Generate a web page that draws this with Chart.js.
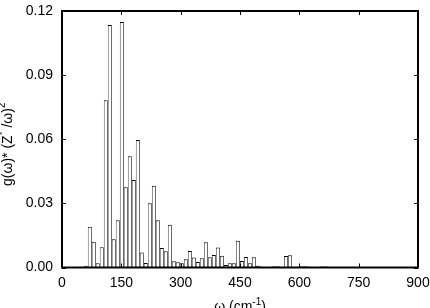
<!DOCTYPE html>
<html>
<head>
<meta charset="utf-8">
<script src="https://cdn.jsdelivr.net/npm/chart.js@4.4.1/dist/chart.umd.min.js"></script>
<style>
html, body { margin: 0; padding: 0; background: #fff; }
#wrap { width: 430px; height: 308px; }
</style>
</head>
<body>
<div id="wrap"><canvas id="histChart" width="430" height="308"></canvas></div>
<script>
// bin centres (cm-1)
const omega = [60.2, 70.3, 80.4, 90.5, 100.6, 110.8, 120.9, 131.0, 141.1, 151.3,
  161.4, 171.5, 181.6, 191.7, 201.9, 212.0, 222.1, 232.3, 242.3, 252.5,
  262.6, 272.7, 282.8, 292.9, 303.1, 313.2, 323.3, 333.4, 343.5, 353.7,
  363.8, 373.9, 384.0, 394.1, 404.3, 414.4, 424.5, 434.6, 444.7, 454.9,
  465.0, 475.1, 485.2, 495.3, 505.5, 515.6, 525.7, 535.8, 545.9, 556.1,
  566.2, 576.3, 586.4, 596.5, 606.7, 616.8, 626.9, 637.0, 647.1, 657.3, 667.4];

// g(w)*(Z*/w)^2 per bin
const weight = [0.0007, 0.0191, 0.0120, 0.0020, 0.0095, 0.0782, 0.1135, 0.0132, 0.0221, 0.1148,
  0.0376, 0.0521, 0.0409, 0.0596, 0.0070, 0.0021, 0.0301, 0.0383, 0.0221, 0.0091,
  0.0076, 0.0200, 0.0029, 0.0025, 0.0020, 0.0039, 0.0077, 0.0047, 0.0026, 0.0043,
  0.0118, 0.0048, 0.0058, 0.0094, 0.0055, 0.0012, 0.0020, 0.0020, 0.0125, 0.0030,
  0.0049, 0.0020, 0.0048, 0.0008, 0.0003, 0.0000, 0.0000, 0.0006, 0.0006, 0.0000,
  0.0054, 0.0057, 0.0000, 0.0000, 0.0006, 0.0006, 0.0000, 0.0000, 0.0000, 0.0005, 0.0005];

const xTicks = [0, 150, 300, 450, 600, 750, 900];
const yTicks = [0, 0.03, 0.06, 0.09, 0.12];

const FONT = '"Liberation Sans", Arial, "DejaVu Sans", sans-serif';

// draws text made of pieces with their own size / raise (for superscripts)
function drawPieces(ctx, pieces, x, y, rotate) {
  ctx.save();
  ctx.translate(x, y);
  if (rotate) ctx.rotate(-Math.PI / 2);
  let total = 0;
  pieces.forEach(p => { ctx.font = p[1] + 'px ' + FONT; total += ctx.measureText(p[0]).width; });
  let cx = -total / 2;
  ctx.textBaseline = 'alphabetic';
  ctx.textAlign = 'left';
  ctx.fillStyle = '#000';
  pieces.forEach(p => {
    ctx.font = p[1] + 'px ' + FONT;
    ctx.fillText(p[0], cx, p[2]);
    cx += ctx.measureText(p[0]).width;
  });
  ctx.restore();
}

const framePlugin = {
  id: 'frame',
  afterDatasetsDraw(chart) {
    const { ctx, chartArea: a, scales: { x, y } } = chart;
    ctx.save();
    ctx.strokeStyle = '#000';
    ctx.lineWidth = 1;
    ctx.beginPath();
    xTicks.forEach(v => {
      const px = Math.round(x.getPixelForValue(v)) + 0.5;
      ctx.moveTo(px, a.bottom); ctx.lineTo(px, a.bottom - 4);
      ctx.moveTo(px, a.top); ctx.lineTo(px, a.top + 4);
    });
    yTicks.forEach(v => {
      const py = Math.round(y.getPixelForValue(v)) + 0.5;
      ctx.moveTo(a.left, py); ctx.lineTo(a.left + 4, py);
      ctx.moveTo(a.right, py); ctx.lineTo(a.right - 4, py);
    });
    ctx.stroke();
    ctx.lineWidth = 2;
    ctx.strokeRect(a.left, a.top, a.right - a.left, a.bottom - a.top);
    ctx.restore();

    // axis titles
    drawPieces(ctx, [['g(ω)* (Z', 14, 0], ['*', 10, -6], [' /ω)', 14, 0], ['2', 10, -7]],
      12, (a.top + a.bottom) / 2 + 5, true);
    drawPieces(ctx, [['ω (cm', 14, 0], ['-1', 10, -6], [')', 14, 0]],
      (a.left + a.right) / 2, 311, false);
  }
};

new Chart(document.getElementById('histChart'), {
  type: 'bar',
  data: {
    datasets: [{
      data: omega.map((w, i) => ({ x: w, y: weight[i] })),
      backgroundColor: '#fff',
      borderColor: '#000',
      borderWidth: { top: 1, left: 0.75, right: 0.75, bottom: 0 },
      borderSkipped: false,
      inflateAmount: 0,
      barPercentage: 1,
      categoryPercentage: 1
    }]
  },
  options: {
    responsive: false,
    devicePixelRatio: 1,
    animation: false,
    layout: { padding: { top: 11, right: 12, bottom: 0, left: 0 } },
    plugins: { legend: { display: false }, tooltip: { enabled: false } },
    scales: {
      x: {
        type: 'linear',
        min: 0,
        max: 900,
        offset: false,
        grid: { display: false, drawTicks: false },
        border: { display: false },
        afterBuildTicks: s => { s.ticks = xTicks.map(v => ({ value: v })); },
        afterFit: s => { s.height = 40.5; s.paddingLeft = 0; s.paddingRight = 0; },
        ticks: {
          padding: 7,
          maxRotation: 0,
          autoSkip: false,
          color: '#000',
          font: { family: FONT, size: 14 },
          callback: v => String(v)
        }
      },
      y: {
        min: 0,
        max: 0.12,
        grid: { display: false, drawTicks: false },
        border: { display: false },
        afterBuildTicks: s => { s.ticks = yTicks.map(v => ({ value: v })); },
        afterFit: s => { s.width = 62; s.paddingTop = 0; s.paddingBottom = 0; },
        ticks: {
          padding: 9,
          color: '#000',
          font: { family: FONT, size: 14 },
          callback: v => v.toFixed(2)
        }
      }
    }
  },
  plugins: [framePlugin]
});
</script>
</body>
</html>
